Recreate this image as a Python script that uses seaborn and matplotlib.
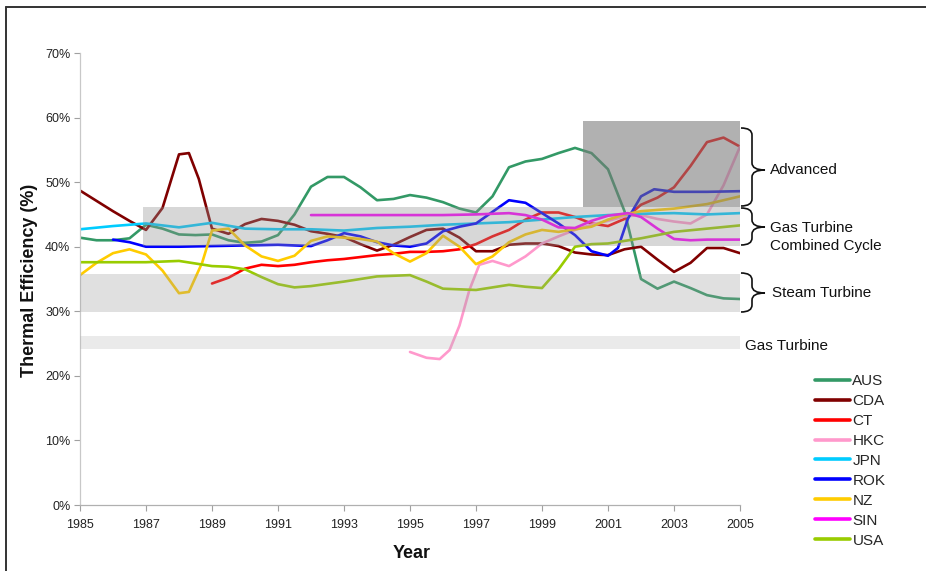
import numpy as np
import pandas as pd
import matplotlib
matplotlib.use("Agg")
import matplotlib.pyplot as plt
import seaborn as sns
from matplotlib.path import Path
from matplotlib.patches import PathPatch
from matplotlib.lines import Line2D
from matplotlib.transforms import Affine2D

# ---------------- data ----------------
aus_x = [1985, 1985.5, 1986, 1986.5, 1987, 1987.5, 1988, 1988.5, 1989, 1989.5, 1990, 1990.5, 1991, 1991.5,
         1992, 1992.5, 1993, 1993.5, 1994, 1994.5, 1995, 1995.5, 1996, 1996.5, 1997, 1997.5, 1998, 1998.5,
         1999, 1999.5, 2000, 2000.5, 2001, 2001.5, 2002, 2002.5, 2003, 2003.5, 2004, 2004.5, 2005]
aus_y = [41.4, 41.0, 41.0, 41.3, 43.4, 42.8, 41.9, 41.8, 41.9, 41.0, 40.6, 40.8, 41.8, 45.0,
         49.3, 50.8, 50.8, 49.2, 47.2, 47.4, 48.0, 47.6, 46.9, 45.9, 45.3, 47.8, 52.3, 53.2,
         53.6, 54.5, 55.3, 54.5, 52.0, 45.5, 35.0, 33.5, 34.6, 33.6, 32.5, 32.0, 31.9]

cda_x = [1985, 1985.5, 1986, 1986.5, 1987, 1987.5, 1988, 1988.3, 1988.6, 1989, 1989.5, 1990, 1990.5, 1991,
         1991.5, 1992, 1992.5, 1993, 1993.5, 1994, 1994.5, 1995, 1995.5, 1996, 1996.5, 1997, 1997.5, 1998,
         1998.5, 1999, 1999.5, 2000, 2000.5, 2001, 2001.5, 2002, 2002.5, 2003, 2003.5, 2004, 2004.5, 2005]
cda_y = [48.7, 47.1, 45.5, 44.0, 42.6, 46.0, 54.3, 54.5, 50.5, 42.8, 42.0, 43.5, 44.3, 44.0,
         43.4, 42.4, 42.0, 41.5, 40.4, 39.4, 40.3, 41.5, 42.6, 42.8, 41.4, 39.3, 39.3, 40.3,
         40.5, 40.5, 40.1, 39.1, 38.8, 38.7, 39.6, 40.0, 38.0, 36.1, 37.5, 39.8, 39.8, 39.0]

ct_x = [1989, 1989.5, 1990, 1990.5, 1991, 1991.5, 1992, 1992.5, 1993, 1993.5, 1994, 1994.5, 1995, 1995.5,
        1996, 1996.5, 1997, 1997.5, 1998, 1998.5, 1999, 1999.5, 2000, 2000.5, 2001, 2001.5, 2002, 2002.5,
        2003, 2003.5, 2004, 2004.5, 2005]
ct_y = [34.3, 35.2, 36.6, 37.2, 37.0, 37.2, 37.6, 37.9, 38.1, 38.4, 38.7, 38.9, 39.2, 39.2,
        39.3, 39.6, 40.4, 41.6, 42.6, 44.2, 45.3, 45.3, 44.6, 43.6, 43.2, 44.3, 46.5, 47.6,
        49.2, 52.5, 56.2, 56.9, 55.5]

hkc_x = [1995, 1995.5, 1995.9, 1996.2, 1996.5, 1996.8, 1997.1, 1997.5, 1998, 1998.5, 1999, 1999.5, 2000,
         2000.5, 2001, 2001.5, 2002, 2002.5, 2003, 2003.5, 2004, 2004.5, 2005]
hkc_y = [23.7, 22.8, 22.6, 24.0, 27.8, 33.3, 37.2, 37.8, 37.0, 38.5, 40.5, 41.6, 42.6,
         43.4, 44.0, 44.7, 44.9, 44.3, 43.9, 43.6, 45.0, 49.5, 55.5]

jpn_x = [1985, 1986, 1987, 1988, 1989, 1990, 1991, 1992, 1993, 1994, 1995, 1996, 1997, 1998, 1999, 2000,
         2001, 2002, 2003, 2004, 2005]
jpn_y = [42.7, 43.2, 43.6, 43.0, 43.7, 42.8, 42.7, 42.7, 42.5, 42.9, 43.1, 43.4, 43.6, 43.8, 44.2, 44.6,
         44.9, 45.1, 45.2, 45.0, 45.2]

rok_x = [1986, 1986.5, 1987, 1988, 1989, 1990, 1991, 1992, 1992.5, 1993, 1993.5, 1994, 1994.5, 1995, 1995.5,
         1996, 1996.5, 1997, 1997.5, 1998, 1998.5, 1999, 1999.5, 2000, 2000.5, 2001, 2001.3, 2001.6, 2002,
         2002.4, 2003, 2004, 2005]
rok_y = [41.1, 40.7, 40.0, 40.0, 40.1, 40.2, 40.3, 40.1, 41.0, 42.1, 41.6, 40.7, 40.2, 40.0, 40.5,
         42.4, 43.1, 43.6, 45.4, 47.2, 46.8, 45.2, 43.6, 41.8, 39.3, 38.6, 39.8, 44.3, 47.8,
         48.9, 48.5, 48.5, 48.6]

nz_x = [1985, 1985.5, 1986, 1986.5, 1987, 1987.5, 1988, 1988.3, 1988.7, 1989, 1989.5, 1990, 1990.5, 1991,
        1991.5, 1992, 1992.5, 1993, 1993.5, 1994, 1994.5, 1995, 1995.5, 1996, 1996.5, 1997, 1997.5, 1998,
        1998.5, 1999, 1999.5, 2000, 2000.5, 2001, 2001.5, 2002, 2003, 2004, 2005]
nz_y = [35.6, 37.5, 39.0, 39.6, 38.8, 36.3, 32.8, 33.0, 37.5, 42.5, 42.8, 40.2, 38.5, 37.8,
        38.6, 40.9, 41.6, 41.4, 41.2, 40.8, 39.0, 37.7, 39.0, 41.7, 40.0, 37.3, 38.5, 40.7,
        41.9, 42.6, 42.3, 42.7, 43.1, 44.2, 45.0, 45.5, 45.9, 46.6, 47.8]

sin_x = [1992, 1993, 1994, 1995, 1996, 1997, 1998, 1998.5, 1999, 1999.5, 2000, 2000.5, 2001, 2001.6, 2002,
         2002.5, 2003, 2003.5, 2004, 2005]
sin_y = [44.9, 44.9, 44.9, 44.9, 44.9, 45.0, 45.2, 44.9, 44.2, 43.0, 42.9, 44.0, 44.8, 45.2, 44.6,
         42.8, 41.2, 41.0, 41.1, 41.1]

usa_x = [1985, 1986, 1987, 1988, 1989, 1989.5, 1990, 1990.5, 1991, 1991.5, 1992, 1993, 1994, 1995, 1995.5,
         1996, 1997, 1998, 1998.5, 1999, 1999.5, 2000, 2000.5, 2001, 2002, 2003, 2004, 2005]
usa_y = [37.6, 37.6, 37.6, 37.8, 37.0, 36.9, 36.5, 35.3, 34.2, 33.7, 33.9, 34.6, 35.4, 35.6, 34.6,
         33.5, 33.3, 34.1, 33.8, 33.6, 36.5, 40.0, 40.4, 40.5, 41.3, 42.3, 42.8, 43.3]

countries = ["AUS", "CDA", "CT", "HKC", "JPN", "ROK", "NZ", "SIN", "USA"]
colors = ["#339966", "#800000", "#FF0000", "#FF99CC", "#00CCFF", "#0000FF", "#FFCC00", "#FF00FF", "#99CC00"]

band_labels = ["Advanced", "Gas Turbine\nCombined Cycle", "Steam Turbine", "Gas Turbine"]
band_x0 = [2000.25, 1986.9, 1985.0, 1985.0]
band_x1 = [2005.0, 2005.0, 2005.0, 2005.0]
band_lo = [46.1, 40.1, 29.9, 24.2]
band_hi = [59.5, 46.1, 35.8, 26.2]

year_ticks = list(range(1985, 2006, 2))
pct_ticks = list(range(0, 71, 10))

# ---------------- build frame ----------------
series = {"AUS": (aus_x, aus_y), "CDA": (cda_x, cda_y), "CT": (ct_x, ct_y), "HKC": (hkc_x, hkc_y),
          "JPN": (jpn_x, jpn_y), "ROK": (rok_x, rok_y), "NZ": (nz_x, nz_y), "SIN": (sin_x, sin_y),
          "USA": (usa_x, usa_y)}
rows = []
for c in countries:
    xs, ys = series[c]
    for x, y in zip(xs, ys):
        rows.append({"Year": x, "Eff": y, "Country": c})
df = pd.DataFrame(rows)

# ---------------- plot ----------------
sns.set_theme(style="white")
plt.rcParams["font.family"] = ["Liberation Sans", "DejaVu Sans"]

W, H = 926, 571
fig = plt.figure(figsize=(W / 100, H / 100), dpi=100)
ax = fig.add_axes([80 / W, 66 / H, 660 / W, 452 / H])

pal = dict(zip(countries, colors))
sns.lineplot(data=df, x="Year", y="Eff", hue="Country", hue_order=countries, palette=pal,
             estimator=None, sort=False, linewidth=1.9, ax=ax, legend=False, zorder=2)
for l in ax.get_lines():
    l.set_solid_joinstyle("round")
    l.set_solid_capstyle("round")

# bands overlay
band_style = [("#7A7A7A", 0.58), ("#919191", 0.36), ("#9A9A9A", 0.30), ("#B4B4B4", 0.27)]
for i in range(len(band_labels)):
    colr, a = band_style[i]
    ax.fill_between([band_x0[i], band_x1[i]], [band_lo[i]] * 2, [band_hi[i]] * 2,
                    color=colr, alpha=a, linewidth=0, zorder=3)

ax.set_xlim(1985, 2005)
ax.set_ylim(0, 70)
ax.set_xticks(year_ticks)
ax.set_xticklabels([str(t) for t in year_ticks])
ax.set_yticks(pct_ticks)
ax.set_yticklabels([f"{t}%" for t in pct_ticks])
ax.tick_params(axis="both", which="major", direction="out", length=4, width=0.8,
               color="#A0A0A0", labelsize=9, labelcolor="#222222", pad=3, left=True, bottom=True)
ax.tick_params(axis="x", pad=6)
for s in ["top", "right"]:
    ax.spines[s].set_visible(False)
ax.spines["left"].set_color("#C8C8C8")
ax.spines["bottom"].set_color("#B0B0B0")
ax.spines["left"].set_linewidth(0.9)
ax.spines["bottom"].set_linewidth(0.9)
ax.set_xlabel("")
ax.set_ylabel("")

fig.text(30 / W, 1 - 280 / H, "Thermal Efficiency (%)", rotation=90, ha="center", va="center",
         fontsize=13, fontweight="bold", color="#111111")
fig.text(412 / W, 1 - 554 / H, "Year", ha="center", va="center", fontsize=13,
         fontweight="bold", color="#111111")

# pixel transform (reference pixel coords, y down)
pxT = Affine2D().scale(1 / W, -1 / H).translate(0, 1) + fig.transFigure


def brace(yt, yb, ym, x0=741, x1=752, x2=765, r=7):
    verts = [(x0, yt), (x1, yt), (x1, yt + r), (x1, ym - r), (x1, ym), (x2, ym),
             (x1, ym), (x1, ym + r), (x1, yb - r), (x1, yb), (x0, yb)]
    codes = [Path.MOVETO, Path.CURVE3, Path.CURVE3, Path.LINETO, Path.CURVE3, Path.CURVE3,
             Path.CURVE3, Path.CURVE3, Path.LINETO, Path.CURVE3, Path.CURVE3]
    p = PathPatch(Path(verts, codes), facecolor="none", edgecolor="#111111", lw=1.2,
                  transform=pxT, clip_on=False)
    fig.add_artist(p)


brace(128, 206, 170)
brace(208, 245, 227)
brace(273, 312, 293)

fig.text(770 / W, 1 - 170 / H, band_labels[0], ha="left", va="center", fontsize=11, color="#111111")
fig.text(770 / W, 1 - 237 / H, band_labels[1], ha="left", va="center", fontsize=11, color="#111111",
         linespacing=1.45)
fig.text(772 / W, 1 - 293 / H, band_labels[2], ha="left", va="center", fontsize=11, color="#111111")
fig.text(745 / W, 1 - 346 / H, band_labels[3], ha="left", va="center", fontsize=11, color="#111111")

# legend
handles = [Line2D([0], [0], color=c, lw=2.6) for c in colors]
fig.legend(handles, countries, loc="upper left", bbox_to_anchor=(815 / W, 1 - 374 / H),
           frameon=False, fontsize=11, handlelength=2.3, handletextpad=0.15, labelspacing=0.39,
           borderpad=0, borderaxespad=0)

# figure frame (left & top edges)
fig.add_artist(Line2D([6, 6], [7, 571], color="#333333", lw=1.4, transform=pxT))
fig.add_artist(Line2D([6, 926], [7, 7], color="#333333", lw=1.4, transform=pxT))

fig.savefig("out.png", dpi=100, facecolor="white")
